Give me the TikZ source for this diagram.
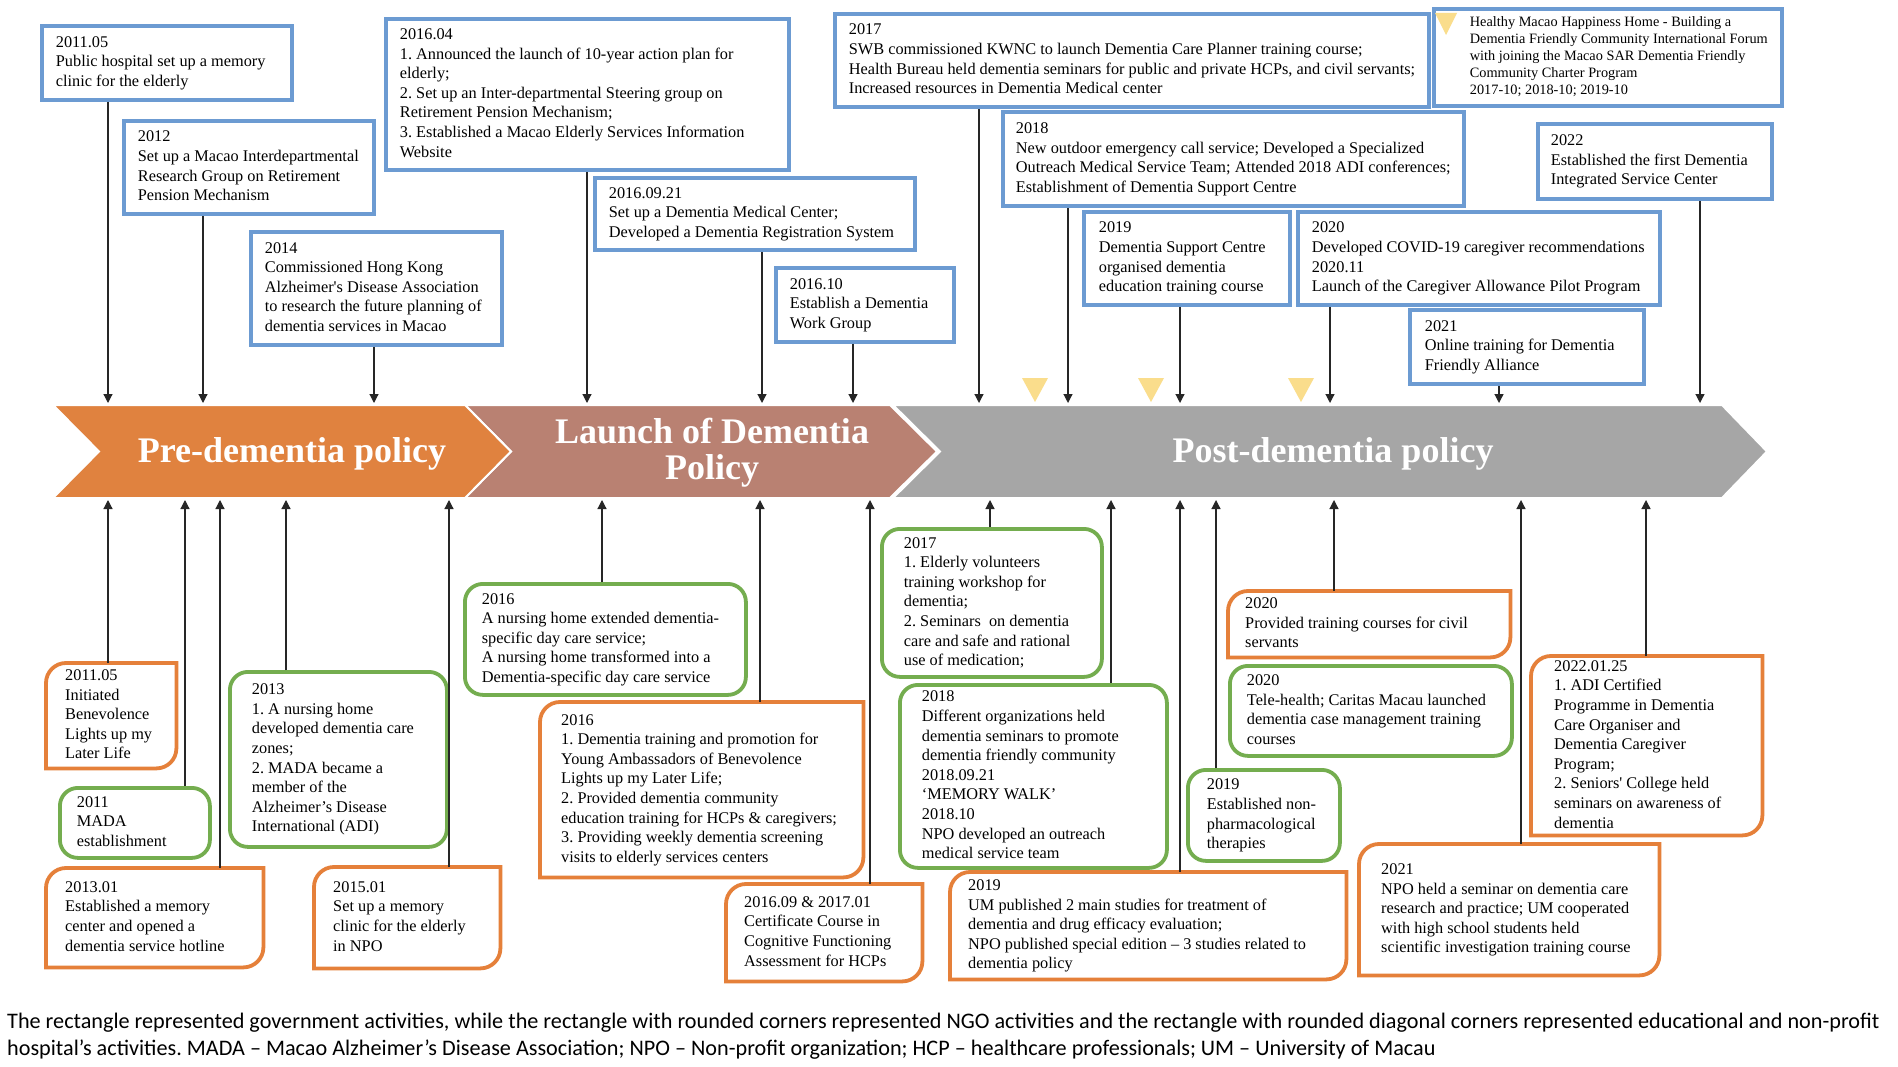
\documentclass[tikz,border=0pt]{standalone}
\usepackage{fontspec}
\setmainfont{Liberation Serif}
\newfontfamily\capfont{Carlito}
\usetikzlibrary{arrows.meta,calc}
\frenchspacing
\definecolor{govblue}{HTML}{6C9BD2}
\definecolor{ngogreen}{HTML}{74AD4F}
\definecolor{eduorange}{HTML}{E5803A}
\definecolor{banorange}{HTML}{E0823F}
\definecolor{banbrown}{HTML}{B98172}
\definecolor{bangray}{HTML}{A6A6A6}
\definecolor{triyellow}{HTML}{FADD8C}
\newcommand\boxfont{\fontsize{16.3}{19.6}\selectfont}
\newcommand\bx[8]{\node[#1,minimum width=#5pt,minimum height=#6pt,inner sep=0pt,anchor=north west] (#2) at (#3,#4) {\makebox[\dimexpr#5pt-#7pt-#7pt\relax][l]{\begin{tabular}{@{}l@{}}#8\end{tabular}}};}
\newcommand\educorner[1]{\draw[eduline] ([xshift=20pt]#1.north west) -- (#1.north east) -- ([yshift=20pt]#1.south east) arc[start angle=0,end angle=-90,radius=20pt] -- (#1.south west) -- ([yshift=-20pt]#1.north west) arc[start angle=180,end angle=90,radius=20pt] -- cycle;}
\tikzset{
 gov/.style={draw=govblue,line width=3.8pt,font=\boxfont},
 ngo/.style={draw=ngogreen,line width=3.8pt,rounded corners=18pt,font=\boxfont},
 edu/.style={font=\boxfont},
 eduline/.style={draw=eduorange,line width=3.8pt},
 arr/.style={-{Triangle[width=9pt,length=9pt]},line width=1.2pt,black!85},
 ban/.style={draw=white,line width=2pt},
 bantext/.style={font=\fontsize{36}{36}\selectfont\bfseries,text=white,align=center,inner sep=0pt},
 tri/.style={fill=triyellow},
 captext/.style={font=\capfont\fontsize{22.2}{26.7}\selectfont,inner sep=0pt,anchor=base west}
}
\begin{document}
\begin{tikzpicture}[x=1pt,y=-1pt]
\useasboundingbox[fill=white] (0,0) rectangle (1898,1067);
% banner
\path[ban,fill=bangray] (893,405) -- (1722,405) -- (1767,451.5) -- (1722,498) -- (893,498) -- (940,451.5) -- cycle;
\path[ban,fill=banbrown] (465,405) -- (890,405) -- (937,451.5) -- (890,498) -- (465,498) -- (511,451.5) -- cycle;
\path[ban,fill=banorange] (53,405) -- (465,405) -- (511,451.5) -- (465,498) -- (53,498) -- (99,451.5) -- cycle;
\node[bantext,anchor=base] (p1) at (292,462) {Pre-dementia policy};
\node[bantext] (p2) at (712,452.5) {Launch of Dementia\\Policy};
\node[bantext,anchor=base] (p3) at (1333,462) {Post-dementia policy};
% yellow markers
\fill[tri] (1022,378) -- (1048,378) -- (1035,402) -- cycle;
\fill[tri] (1138,378) -- (1164,378) -- (1151,402) -- cycle;
\fill[tri] (1288,378) -- (1314,378) -- (1301,402) -- cycle;
% top government boxes
\bx{gov}{b1}{40}{24}{250}{74}{14}{2011.05\\Public hospital set up a memory\\clinic for the elderly}
\bx{gov}{b2}{122}{119}{250}{93}{14}{2012\\Set up a Macao Interdepartmental\\Research Group on Retirement\\Pension Mechanism}
\bx{gov}{b3}{249}{230}{251}{113}{14}{2014\\Commissioned Hong Kong\\Alzheimer\textquotesingle s Disease Association\\to research the future planning of\\dementia services in Macao}
\bx{gov}{b4}{384}{17}{403}{151}{14}{2016.04\\1. Announced the launch of 10-year action plan for\\elderly;\\2. Set up an Inter-departmental Steering group on\\Retirement Pension Mechanism;\\3. Established a Macao Elderly Services Information\\Website}
\bx{gov}{b5}{593}{176}{320}{72}{14}{2016.09.21\\Set up a Dementia Medical Center;\\Developed a Dementia Registration System}
\bx{gov}{b6}{774}{266}{178}{74}{14}{2016.10\\Establish a Dementia\\Work Group}
\bx{gov}{b7}{833}{12}{594}{93}{14}{2017\\SWB commissioned KWNC to launch Dementia Care Planner training course;\\Health Bureau held dementia seminars for public and private HCPs, and civil servants;\\Increased resources in Dementia Medical center}
\bx{gov}{b8}{1001}{110}{461}{94}{13}{2018\\New outdoor emergency call service; Developed a Specialized\\Outreach Medical Service Team; Attended 2018 ADI conferences;\\Establishment of Dementia Support Centre}
\bx{gov}{b9}{1082}{210}{206}{93}{15}{2019\\Dementia Support Centre\\organised dementia\\education training course}
\bx{gov}{b10}{1296}{210}{362}{93}{14}{2020\\Developed COVID-19 caregiver recommendations\\2020.11\\Launch of the Caregiver Allowance Pilot Program}
\bx{gov}{b11}{1408}{308}{234}{74}{15}{2021\\Online training for Dementia\\Friendly Alliance}
\bx{gov,font=\fontsize{14.3}{17}\selectfont}{b12}{1432}{7}{348}{97}{36}{Healthy Macao Happiness Home - Building a\\Dementia Friendly Community International Forum\\with joining the Macao SAR Dementia Friendly\\Community Charter Program\\2017-10; 2018-10; 2019-10}
\fill[tri] (1435,13) -- (1457,13) -- (1446,35) -- cycle;
\bx{gov}{b13}{1536}{122}{234}{75}{13}{2022\\Established the first Dementia\\Integrated Service Center}
% top arrows
\foreach \n/\x in {b1/108,b2/203,b3/374,b4/587,b5/762,b6/853,b7/979,b8/1068,b9/1180,b10/1330,b11/1499,b13/1700}{
  \coordinate (t\n) at (\x,403);
  \draw[arr] (\n.south -| t\n) -- (t\n);
}
% bottom boxes
\bx{edu}{n1}{46}{663}{130}{105}{19}{2011.05\\Initiated\\Benevolence\\Lights up my\\Later Life}
\educorner{n1}
\bx{ngo}{n2}{58}{786}{150}{70}{17}{2011\\MADA\\establishment}
\bx{ngo}{n3}{228}{670}{217}{175}{22}{2013\\1. A nursing home\\developed dementia care\\zones;\\2. MADA became a\\member of the\\Alzheimer’s Disease\\International (ADI)}
\bx{edu}{n4}{46}{868}{217}{99}{19}{2013.01\\Established a memory\\center and opened a\\dementia service hotline}
\educorner{n4}
\bx{edu}{n5}{314}{867}{186}{101}{19}{2015.01\\Set up a memory\\clinic for the elderly\\in NPO}
\educorner{n5}
\bx{ngo}{n6}{463}{582}{281}{111}{17}{2016\\A nursing home extended dementia-\\specific day care service;\\A nursing home transformed into a\\Dementia-specific day care service}
\bx{edu}{n7}{540}{702}{323}{175}{21}{2016\\1. Dementia training and promotion for\\Young Ambassadors of Benevolence\\Lights up my Later Life;\\2. Provided dementia community\\education training for HCPs \& caregivers;\\3. Providing weekly dementia screening\\visits to elderly services centers}
\educorner{n7}
\bx{edu}{n8}{726}{884}{196}{97}{18}{2016.09 \& 2017.01\\Certificate Course in\\Cognitive Functioning\\Assessment for HCPs}
\educorner{n8}
\bx{ngo}{n9}{880}{527}{220}{148}{22}{2017\\1. Elderly volunteers\\training workshop for\\dementia;\\2. Seminars\ \ on dementia\\care and safe and rational\\use of medication;}
\bx{ngo}{n10}{898}{683}{267}{183}{22}{2018\\Different organizations held\\dementia seminars to promote\\dementia friendly community\\2018.09.21\\‘MEMORY WALK’\\2018.10\\NPO developed an outreach\\medical service team}
\bx{edu}{n11}{950}{872}{396}{107}{18}{2019\\UM published 2 main studies for treatment of\\dementia and drug efficacy evaluation;\\NPO published special edition – 3 studies related to\\dementia policy}
\educorner{n11}
\bx{ngo}{n12}{1186}{768}{152}{91}{19}{2019\\Established non-\\pharmacological\\therapies}
\bx{edu}{n13}{1228}{591}{282}{66}{17}{2020\\Provided training courses for civil\\servants}
\educorner{n13}
\bx{ngo}{n14}{1228}{664}{282}{90}{17}{2020\\Tele-health; Caritas Macau launched\\dementia case management training\\courses}
\bx{edu}{n15}{1359}{844}{300}{131}{22}{2021\\NPO held a seminar on dementia care\\research and practice; UM cooperated\\with high school students held\\scientific investigation training course}
\educorner{n15}
\bx{edu}{n16}{1531}{656}{231}{179}{23}{2022.01.25\\1. ADI Certified\\Programme in Dementia\\Care Organiser and\\Dementia Caregiver\\Program;\\2. Seniors\textquotesingle\ College held\\seminars on awareness of\\dementia}
\educorner{n16}
% bottom arrows
\foreach \n/\x in {n1/108,n2/185,n4/220,n3/286,n5/449,n6/602,n7/760,n8/870,n9/990,n10/1111,n11/1180,n12/1216,n13/1334,n15/1521,n16/1646}{
  \coordinate (u\n) at (\x,500);
  \draw[arr] (\n.north -| u\n) -- (u\n);
}
% caption
\node[captext] (cap1) at (7,1028) {The rectangle represented government activities, while the rectangle with rounded corners represented NGO activities and the rectangle with rounded diagonal corners represented educational and non-profit};
\node[captext] (cap2) at (7,1055) {hospital’s activities. MADA – Macao Alzheimer’s Disease Association; NPO – Non-profit organization; HCP – healthcare professionals; UM – University of Macau};
\end{tikzpicture}
\end{document}
